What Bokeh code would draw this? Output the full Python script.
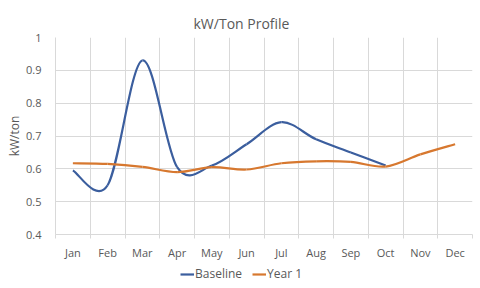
from bokeh.plotting import figure
from bokeh.layouts import column
from bokeh.models import (FixedTicker, Legend, LegendItem, ColumnDataSource,
                          Range1d, Title)
from bokeh.embed import file_html
from bokeh.resources import INLINE

months = ["Jan", "Feb", "Mar", "Apr", "May", "Jun",
          "Jul", "Aug", "Sep", "Oct", "Nov", "Dec"]
baseline = [0.595, 0.55, 0.93, 0.605, 0.61, 0.675, 0.742, 0.69, 0.65, 0.61]
year1 = [0.617, 0.615, 0.606, 0.59, 0.605, 0.598, 0.617, 0.623, 0.621, 0.607, 0.644, 0.675]
y_ticks = [0.4, 0.5, 0.6, 0.7, 0.8, 0.9, 1.0]
series_names = ["Baseline", "Year 1"]

FONT = "Open Sans"
TEXT = "#595959"
GRID = "#D9D9D9"
BLUE = "#3B5E9E"
ORANGE = "#D7782F"


def smooth_segments(vals):
    """Cubic Bezier pieces (Catmull-Rom style) through each month's value."""
    xs = [i + 0.5 for i in range(len(vals))]
    n = len(vals)
    seg = dict(x0=[], y0=[], x1=[], y1=[], cx0=[], cy0=[], cx1=[], cy1=[])
    for i in range(n - 1):
        xp, yp = (xs[i - 1], vals[i - 1]) if i > 0 else (xs[i], vals[i])
        xn, yn = (xs[i + 2], vals[i + 2]) if i + 2 < n else (xs[i + 1], vals[i + 1])
        seg["x0"].append(xs[i]); seg["y0"].append(vals[i])
        seg["x1"].append(xs[i + 1]); seg["y1"].append(vals[i + 1])
        seg["cx0"].append(xs[i] + (xs[i + 1] - xp) / 6)
        seg["cy0"].append(vals[i] + (vals[i + 1] - yp) / 6)
        seg["cx1"].append(xs[i + 1] - (xn - xs[i]) / 6)
        seg["cy1"].append(vals[i + 1] - (yn - vals[i]) / 6)
    return ColumnDataSource(seg)


p = figure(width=480, height=262, output_backend="svg", toolbar_location=None,
           x_range=Range1d(0, 12), y_range=Range1d(0.4, 1.0),
           min_border_left=55, min_border_right=8, min_border_top=37,
           min_border_bottom=28)
p.outline_line_color = None
p.background_fill_color = "white"
p.border_fill_color = "white"

p.add_layout(Title(text="kW/Ton Profile", text_font=FONT, text_font_size="14px",
                   text_font_style="normal", text_color=TEXT, align="left",
                   offset=138), "above")

# axes: month names centred in each slot, small tick marks between slots
p.xaxis.ticker = FixedTicker(ticks=[i + 0.5 for i in range(12)],
                             minor_ticks=list(range(13)))
p.xaxis.major_label_overrides = {i + 0.5: m for i, m in enumerate(months)}
p.xaxis.major_tick_line_color = None
p.xaxis.minor_tick_line_color = GRID
p.xaxis.minor_tick_in = 0
p.xaxis.minor_tick_out = 4
p.xaxis.axis_line_color = GRID
p.xaxis.major_label_text_font = FONT
p.xaxis.major_label_text_font_size = "11px"
p.xaxis.major_label_text_color = TEXT
p.xaxis.major_label_standoff = 4

p.yaxis.ticker = FixedTicker(ticks=y_ticks)
p.yaxis.major_label_overrides = {0.4: "0.4", 0.5: "0.5", 0.6: "0.6", 0.7: "0.7",
                                 0.8: "0.8", 0.9: "0.9", 1.0: "1"}
p.yaxis.axis_line_color = GRID
p.yaxis.major_tick_line_color = None
p.yaxis.minor_tick_line_color = None
p.yaxis.major_label_text_font = FONT
p.yaxis.major_label_text_font_size = "11px"
p.yaxis.major_label_text_color = TEXT
p.yaxis.major_label_standoff = 8
p.yaxis.axis_label = "kW/ton"
p.yaxis.axis_label_text_font = FONT
p.yaxis.axis_label_text_font_size = "12px"
p.yaxis.axis_label_text_font_style = "normal"
p.yaxis.axis_label_text_color = TEXT
p.yaxis.axis_label_standoff = 0

p.xgrid.ticker = FixedTicker(ticks=list(range(13)))
p.xgrid.grid_line_color = GRID
p.ygrid.grid_line_color = GRID

# series
p.bezier(x0="x0", y0="y0", x1="x1", y1="y1", cx0="cx0", cy0="cy0",
         cx1="cx1", cy1="cy1", source=smooth_segments(baseline),
         line_color=BLUE, line_width=2.2)
p.bezier(x0="x0", y0="y0", x1="x1", y1="y1", cx0="cx0", cy0="cy0",
         cx1="cx1", cy1="cy1", source=smooth_segments(year1),
         line_color=ORANGE, line_width=2.2)

# legend strip under the chart (its frame lines up with the chart's frame)
lg = figure(width=480, height=26, output_backend="svg", toolbar_location=None,
            x_range=Range1d(0, 1), y_range=Range1d(0, 1),
            min_border_left=55, min_border_right=8,
            min_border_top=0, min_border_bottom=0)
lg.axis.visible = False
lg.grid.visible = False
lg.outline_line_color = None
lg.border_fill_color = "white"
# swatch renderers sit outside the visible range; only their legend glyphs show
swatches = [lg.line(x=[-5, -4], y=[-5, -5], line_color=c, line_width=2.2)
            for c in (BLUE, ORANGE)]
legend = Legend(items=[LegendItem(label=n, renderers=[r])
                       for n, r in zip(series_names, swatches)],
                orientation="horizontal", location=(125, 6),
                label_text_font=FONT, label_text_font_size="12px",
                label_text_color=TEXT, glyph_width=14, glyph_height=10,
                label_standoff=1, spacing=10, padding=2, margin=0,
                border_line_color=None, background_fill_alpha=0)
lg.add_layout(legend, "center")

layout = column(p, lg, spacing=0)
open("out.html", "w").write(file_html(layout, INLINE))
